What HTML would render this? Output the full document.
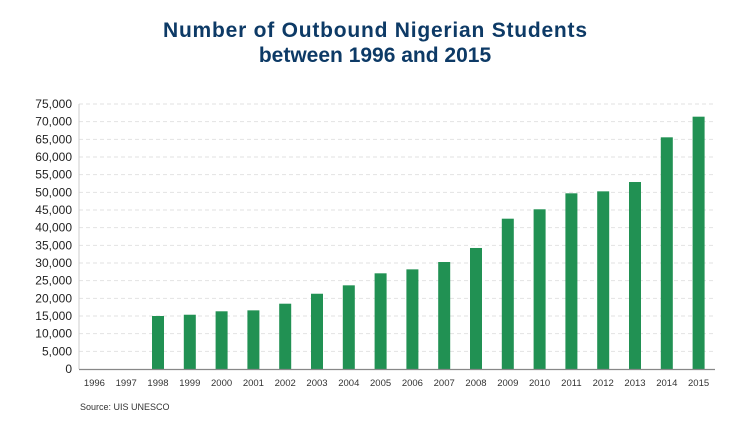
<!DOCTYPE html>
<html><head><meta charset="utf-8"><style>
body{margin:0;background:#fff;width:744px;height:418px;overflow:hidden;font-family:"Liberation Sans",sans-serif}
</style></head><body>
<svg width="744" height="418">
<text x="375" y="37" text-anchor="middle" font-size="21" font-weight="bold" fill="#0d3a66" textLength="424">Number of Outbound Nigerian Students</text>
<text x="375" y="62" text-anchor="middle" font-size="21" font-weight="bold" fill="#0d3a66">between 1996 and 2015</text>
<g id="grid"></g><g id="bars"></g><g id="xl"></g><g id="yl"></g>
<line x1="79" y1="104" x2="79" y2="369" stroke="#ccc" stroke-width="1"/>
<line x1="79" y1="369.5" x2="715" y2="369.5" stroke="#888" stroke-width="1.2"/>
<text x="80" y="410" font-size="9" fill="#333">Source: UIS UNESCO</text>
</svg>
<script>
const years=["1996","1997","1998","1999","2000","2001","2002","2003","2004","2005","2006","2007","2008","2009","2010","2011","2012","2013","2014","2015"];
const students=[0,0,15000,15360,16330,16600,18480,21300,23680,27080,28200,30280,34250,42540,45200,49720,50280,52920,65570,71410];
const yTicks=[0,5000,10000,15000,20000,25000,30000,35000,40000,45000,50000,55000,60000,65000,70000,75000];
const NS="http://www.w3.org/2000/svg";
const y=v=>369-v/75000*265;
const x=i=>94.4+i*31.8;
function mk(t,a,p){const e=document.createElementNS(NS,t);for(const k in a)e.setAttribute(k,a[k]);document.getElementById(p).appendChild(e);return e;}
yTicks.forEach(v=>{
 if(v>0){const g=mk('line',{x1:79,x2:715,y1:y(v),y2:y(v),stroke:'#e2e2e2','stroke-dasharray':'4,3'},'grid');
 
 }
 const t=mk('text',{x:72,y:y(v)+4,'text-anchor':'end','font-size':'12',fill:'#222'},'yl');
 t.textContent=v.toLocaleString('en-US');
 
 
});
years.forEach((yr,i)=>{
 if(students[i]>0){const b=mk('rect',{x:x(i)-6,y:y(students[i]),width:12,height:369-y(students[i]),fill:'#219153'},'bars');
 
 }
 const t=mk('text',{x:x(i),y:386,'text-anchor':'middle','font-size':'9.5',fill:'#333'},'xl');
 t.textContent=yr;
 
 
});
</script>
</body></html>
